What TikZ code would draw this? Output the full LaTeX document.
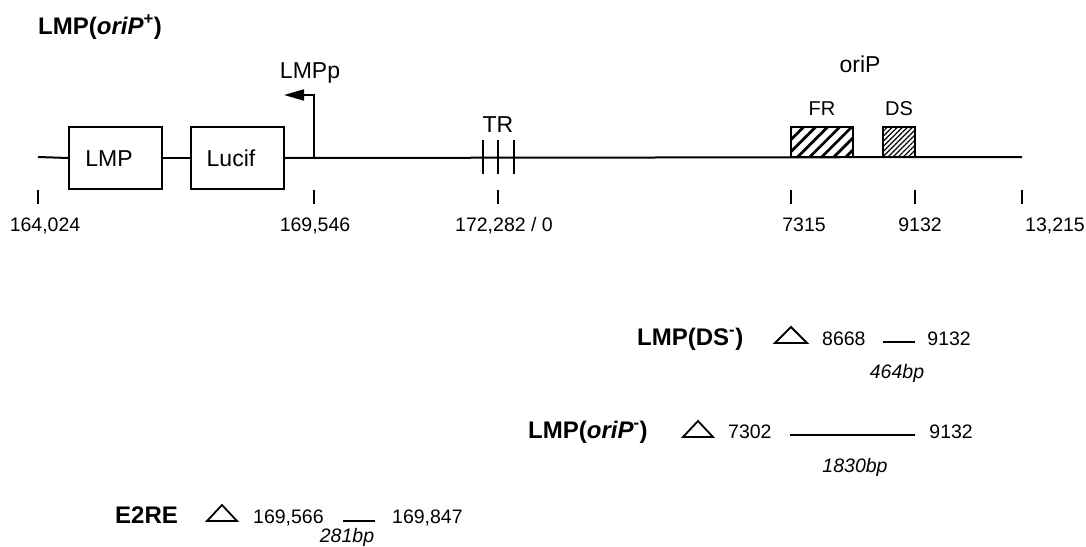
\documentclass[tikz,border=0pt]{standalone}
\usepackage{fontspec}
\setmainfont{Liberation Sans}
\usetikzlibrary{patterns.meta,arrows.meta}
\begin{document}
\begin{tikzpicture}[x=1pt,y=-1pt,
  num/.style={font=\fontsize{19.5}{22}\selectfont, inner sep=0pt},
  bpnum/.style={font=\fontsize{19.5}{22}\selectfont\itshape, inner sep=0pt},
  lbl/.style={font=\fontsize{23}{26}\selectfont, inner sep=0pt},
  small/.style={font=\fontsize{20}{23}\selectfont, inner sep=0pt},
  bold/.style={font=\fontsize{24}{27}\selectfont\bfseries, inner sep=0pt},
  gene/.style={draw, line width=1.6pt, minimum width=93pt, minimum height=62pt, inner sep=0pt},
  tickmark/.style={line width=2pt},
  mapline/.style={line width=2pt},
  delline/.style={line width=1.6pt},
  deltri/.style={line width=1.8pt, line join=miter},
]
\useasboundingbox (0,0) rectangle (1086,546);

% title
\node[bold, anchor=base west] (title) at (38,34) {LMP(\textit{oriP}\textsuperscript{+})};

% map
\coordinate (start) at (38,157);
\coordinate (stop) at (1022,157);
\node[gene] (lmp) at (115.5,158) {};
\node[lbl, anchor=base] (lmplbl) at (109,166.5) {LMP};
\node[gene] (luc) at (237.5,158) {};
\node[lbl, anchor=base] (luclbl) at (231,166.5) {Lucif};
\draw[mapline] (start) -- (lmp.west);
\draw[mapline] (lmp.east) -- (luc.west);
\draw[mapline] (luc.east) -- (stop);

% promoter
\coordinate (pbase) at (314,157);
\coordinate (ptip) at (284,95);
\draw[mapline, -{Triangle[length=20pt,width=11pt]}] (pbase) |- (ptip);
\node[lbl, anchor=base] (lmpp) at (310,78) {LMPp};

% TR
\draw[mapline] (483,140) -- (483,174);
\draw[mapline] (498,140) -- (498,174);
\draw[mapline] (514,140) -- (514,174);
\node[lbl, anchor=base] (tr) at (498,132) {TR};

% oriP elements
\node[draw, line width=1.6pt, minimum width=62pt, minimum height=30pt, inner sep=0pt,
  pattern={Lines[angle=45,distance=8.5pt,line width=2.8pt]}] (fr) at (822,142) {};
\node[draw, line width=1.6pt, minimum width=32pt, minimum height=30pt, inner sep=0pt,
  pattern={Lines[angle=45,distance=3.6pt,line width=1.2pt]}] (ds) at (899,142) {};
\node[small, anchor=base] (frl) at (822,115) {FR};
\node[small, anchor=base] (dsl) at (899,115) {DS};
\node[lbl, anchor=base] (orip) at (860,72) {oriP};

% ticks
\foreach \x in {38,314,498,791,915,1022} \draw[tickmark] (\x,190) -- (\x,204);
\node[num, anchor=base] (n1) at (45,231) {164,024};
\node[num, anchor=base] (n2) at (315,231) {169,546};
\node[num, anchor=base] (n3) at (504,231) {172,282 / 0};
\node[num, anchor=base] (n4) at (804,231) {7315};
\node[num, anchor=base] (n5) at (920,231) {9132};
\node[num, anchor=base] (n6) at (1055,231) {13,215};

% LMP(DS-)
\node[bold, anchor=base west] (dsname) at (637,345) {LMP(DS\textsuperscript{-})};
\draw[deltri] (775,343) -- (791,327) -- (807,343) -- cycle;
\node[num, anchor=base west] (dsa) at (822,345) {8668};
\coordinate (dsl1) at (883,342);
\coordinate (dsl2) at (915,342);
\draw[delline] (dsl1) -- (dsl2);
\node[num, anchor=base east] (dsb) at (971,345) {9132};
\node[bpnum, anchor=base] (dsbp) at (897,378) {464bp};

% LMP(oriP-)
\node[bold, anchor=base west] (oriname) at (528,438) {LMP(\textit{oriP}\textsuperscript{-})};
\draw[deltri] (683,437) -- (698,421) -- (713,437) -- cycle;
\node[num, anchor=base west] (oria) at (728,438) {7302};
\coordinate (oril1) at (790,435);
\coordinate (oril2) at (915,435);
\draw[delline] (oril1) -- (oril2);
\node[num, anchor=base east] (orib) at (973,438) {9132};
\node[bpnum, anchor=base] (oribp) at (855,472) {1830bp};

% E2RE
\node[bold, anchor=base west] (e2name) at (115,523) {E2RE};
\draw[deltri] (207,521) -- (222,505) -- (237,521) -- cycle;
\node[num, anchor=base west] (e2a) at (253,523) {169,566};
\coordinate (e2l1) at (343,521);
\coordinate (e2l2) at (375,521);
\draw[delline] (e2l1) -- (e2l2);
\node[num, anchor=base west] (e2b) at (392,523) {169,847};
\node[bpnum, anchor=base] (e2bp) at (347,542) {281bp};
\end{tikzpicture}
\end{document}
